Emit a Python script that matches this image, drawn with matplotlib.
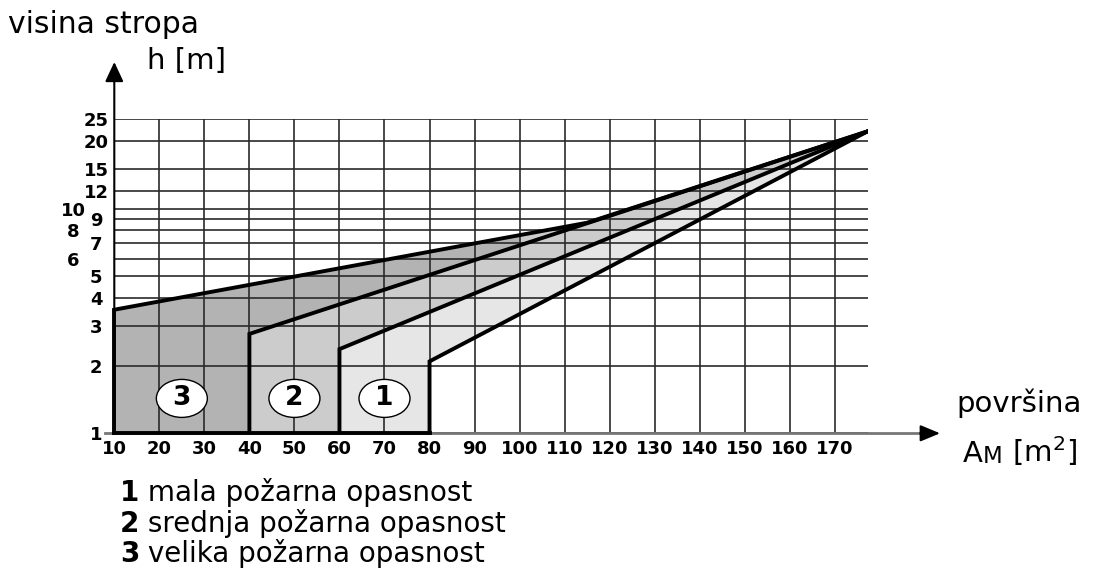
import numpy as np
import matplotlib
matplotlib.use("Agg")
import matplotlib.pyplot as plt
from matplotlib.patches import Ellipse, Polygon
from matplotlib import transforms

plt.rcParams['font.family'] = ['DejaVu Sans']

# ---------------- data ----------------
x_ticks = [10, 20, 30, 40, 50, 60, 70, 80, 90, 100, 110, 120, 130, 140, 150, 160, 170]
x_tick_labels = [str(v) for v in x_ticks]
y_major = [1, 2, 3, 4, 5, 7, 9, 12, 15, 20, 25]
y_major_labels = [str(v) for v in y_major]
y_minor = [6, 8, 10]          # staggered labels
y_minor_labels = [str(v) for v in y_minor]

x_max = 177.3
# boundary lines (x, h)
top_x = [10, 115, 177.3]      # upper edge of zone 3
top_h = [3.55, 8.66, 22.1]
l2_x = [40, 177.3]            # upper edge of zone 2
l2_h = [2.77, 22.1]
l1_x = [60, 177.3]            # upper edge of zone 1
l1_h = [2.37, 22.1]
l0_x = [80, 177.3]            # right edge of zone 1
l0_h = [2.09, 22.1]
dark_end = 100                # dark shade stops here

zone_labels = ['1', '2', '3']
zone_label_x = [70, 50, 25]
zone_label_h = [1.43, 1.43, 1.43]

legend_lines = [('1', ' mala požarna opasnost'),
                ('2', ' srednja požarna opasnost'),
                ('3', ' velika požarna opasnost')]

c_dark, c_mid, c_light = '#b3b3b3', '#cccccc', '#e6e6e6'

W, H = 1099, 580
fig = plt.figure(figsize=(W / 100, H / 100), dpi=100)
ax = fig.add_axes([114.3 / W, (H - 433.3) / H, 753.4 / W, 314 / H])
ax.set_yscale('log')
ax.set_xlim(10, x_max)
ax.set_ylim(1, 25)


def hval(xs, hs, x):
    return 10 ** np.interp(x, xs, np.log10(hs))


# ---------------- fills ----------------
dark = [(10, 1), (10, top_h[0]), (dark_end, hval(top_x, top_h, dark_end)),
        (dark_end, hval(l2_x, l2_h, dark_end)), (l2_x[0], l2_h[0]), (l2_x[0], 1)]
mid = [(l2_x[0], 1), (l2_x[0], l2_h[0]), (dark_end, hval(l2_x, l2_h, dark_end)),
       (dark_end, hval(top_x, top_h, dark_end)), (top_x[1], top_h[1]), (top_x[2], top_h[2]),
       (l1_x[0], l1_h[0]), (l1_x[0], 1)]
light = [(l1_x[0], 1), (l1_x[0], l1_h[0]), (l1_x[1], l1_h[1]),
         (l0_x[0], l0_h[0]), (l0_x[0], 1)]
for poly, col in [(dark, c_dark), (mid, c_mid), (light, c_light)]:
    ax.add_patch(Polygon(poly, closed=True, facecolor=col, edgecolor='none', zorder=1))

# ---------------- grid ----------------
ax.set_xticks(x_ticks, x_tick_labels)
ax.set_yticks(y_major, y_major_labels)
ax.set_yticks(y_minor, y_minor_labels, minor=True)
ax.grid(True, which='both', color='#2a2a2a', lw=1.2, zorder=1.5)
for s in ax.spines.values():
    s.set_visible(False)
ax.tick_params(axis='both', which='both', length=0)
ax.tick_params(axis='x', pad=5)
ax.tick_params(axis='y', which='major', pad=13.2)
ax.tick_params(axis='y', which='minor', pad=29.5)
for lbl in ax.get_xticklabels():
    lbl.set_fontsize(13); lbl.set_fontweight('heavy')
for lbl in ax.get_yticklabels(which='both'):
    lbl.set_fontsize(13); lbl.set_fontweight('heavy'); lbl.set_ha('center')

# ---------------- outlines ----------------
lw = 2.8
kw = dict(color='black', lw=lw, solid_capstyle='projecting', solid_joinstyle='miter', zorder=3)
ax.plot([10, 10], [1, top_h[0]], clip_on=False, **kw)
ax.plot(top_x, top_h, **kw)
for xs, hs in [(l2_x, l2_h), (l1_x, l1_h), (l0_x, l0_h)]:
    ax.plot([xs[0]] + xs, [1] + hs, **kw)
ax.plot([10, l0_x[0]], [1, 1], clip_on=False, **kw)

# ---------------- axis arrows ----------------
ax.plot([-0.012, 1.08], [0, 0], transform=ax.transAxes, color='#777777', lw=2,
        clip_on=False, zorder=1.6)
ax.annotate('', xy=(1.096, 0), xytext=(1.07, 0), xycoords='axes fraction',
            arrowprops=dict(arrowstyle='-|>,head_length=0.6,head_width=0.25', color='black',
                            lw=1.5, shrinkA=0, shrinkB=0, mutation_scale=20))
ax.annotate('', xy=(0, 1.1825), xytext=(0, 0), xycoords='axes fraction',
            arrowprops=dict(arrowstyle='-|>,head_length=0.6,head_width=0.28', color='black',
                            lw=1.5, shrinkA=0, shrinkB=0, mutation_scale=20), zorder=4)

# ---------------- zone labels ----------------
for lab, zx, zh in zip(zone_labels, zone_label_x, zone_label_h):
    tr = fig.dpi_scale_trans + transforms.ScaledTranslation(zx, zh, ax.transData)
    ax.add_patch(Ellipse((0, 0), 0.51, 0.38, transform=tr, facecolor='white',
                         edgecolor='black', lw=1, zorder=5, clip_on=False))
    ax.text(zx, zh, lab, ha='center', va='center', fontsize=19, fontweight='heavy', zorder=6)


# ---------------- texts ----------------
def ftext(px, py, s, **kw):
    return fig.text(px / W, 1 - py / H, s, **kw)


ftext(8, 33, 'visina stropa', fontsize=21.5, va='baseline')
ftext(147, 69, 'h [m]', fontsize=21, va='baseline')
ftext(956, 412, 'površina', fontsize=21, va='baseline')
tA = ftext(963, 462, 'A', fontsize=21, va='baseline')
tM = ax.annotate('M', xy=(1, 0), xycoords=tA, va='bottom', ha='left', fontsize=16.5)
ax.annotate(r' [m$^{\mathregular{2}}$]', xy=(1, 0), xycoords=tM, va='bottom', ha='left',
            fontsize=21)

for i, (num, txt) in enumerate(legend_lines):
    y = 501 + i * 30.5
    t = ftext(120, y, num, fontsize=20, fontweight='bold', va='baseline')
    ax.annotate(txt, xy=(1, 0), xycoords=t, va='bottom', ha='left', fontsize=20)

fig.savefig('out.png', dpi=100)
